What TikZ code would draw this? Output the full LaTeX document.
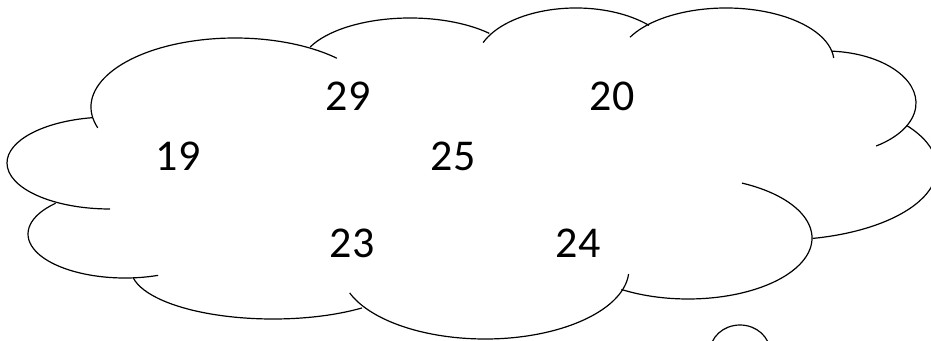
\documentclass[tikz,border=0pt]{standalone}
\usepackage{fontspec}
\setmainfont{Carlito}
\newcommand\cloudlobe[6]{%
  \draw[cloudline] ({#1+#3*cos(#5)},{340-#2+#4*sin(#5)}) arc[start angle=#5,end angle=#6,x radius=#3,y radius=#4];}
\begin{document}
\begin{tikzpicture}[x=1pt,y=1pt,
  cloudline/.style={line width=1.2pt,black},
  num/.style={inner sep=0pt,anchor=center,font=\fontsize{44}{50}\selectfont}]
\useasboundingbox (0,0) rectangle (931,340);
\clip (0,0) rectangle (931,340);
\cloudlobe{235}{107}{144}{69}{197.6}{45}
\cloudlobe{410}{68}{110}{50}{155.2}{43.9}
\cloudlobe{576}{63}{100}{55}{158.2}{43.1}
\cloudlobe{726}{62}{108}{54}{152.7}{4.3}
\cloudlobe{825}{103}{91}{52}{85.6}{-55.8}
\cloudlobe{780}{168}{157}{72}{36}{-78}
\cloudlobe{688}{238}{124}{61}{64.2}{-122.5}
\cloudlobe{485}{269}{144}{70}{-4.1}{-160}
\cloudlobe{273}{269}{142}{50}{-51.2}{-169.6}
\cloudlobe{125}{234}{97}{44}{-70}{-224.3}
\cloudlobe{110}{163}{103}{46}{-90}{-260}
\draw[cloudline] (740,-12) ellipse [x radius=30,y radius=27];
\node[num] (n29) at (348,244) {29};
\node[num] (n20) at (612,244) {20};
\node[num] (n19) at (178,184) {19};
\node[num] (n25) at (453,184) {25};
\node[num] (n23) at (352,97) {23};
\node[num] (n24) at (578,97) {24};
\end{tikzpicture}
\end{document}
